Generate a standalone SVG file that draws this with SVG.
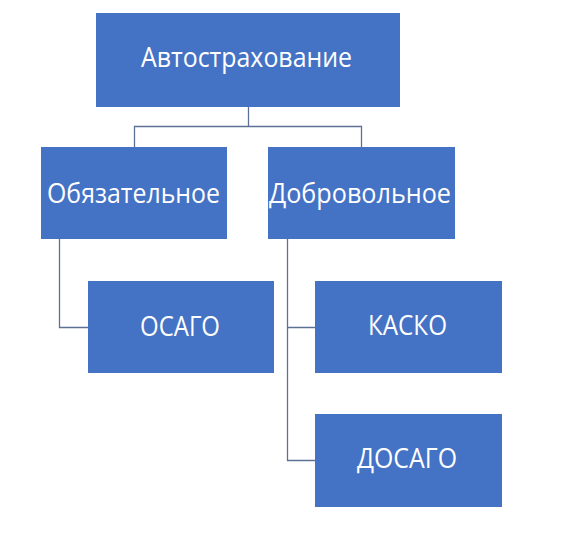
<svg xmlns="http://www.w3.org/2000/svg" width="575" height="553" viewBox="0 0 575 553">
<style>
.box{fill:#4472C4}
.t{fill:#fff;font-family:"Open Sans","Liberation Sans",Arial,sans-serif;font-size:27px;font-weight:500;text-anchor:middle}
.c{fill:none;stroke:#5d7196;stroke-width:1.3}
</style>
<rect width="575" height="553" fill="#fff"/>
<g id="connectors">
<path class="c" d="M248.5 106V126.5H134.5V147M248.5 126.5H361.5V147"/>
<path class="c" d="M59.5 239V327.5H88"/>
<path class="c" d="M287.5 239V460.5H315M287.5 327.5H315"/>
</g>
<g id="n-auto"><rect class="box" x="96" y="13" width="304" height="94"/><text class="t" x="246.5" y="67" font-size="24" textLength="211" lengthAdjust="spacingAndGlyphs">Автострахование</text></g>
<g id="n-obl"><rect class="box" x="41" y="147" width="186" height="92"/><text class="t" x="133.5" y="203" textLength="173" lengthAdjust="spacingAndGlyphs">Обязательное</text></g>
<g id="n-dob"><rect class="box" x="268" y="147" width="187" height="92"/><text class="t" x="360" y="203" textLength="182" lengthAdjust="spacingAndGlyphs">Добровольное</text></g>
<g id="n-osago"><rect class="box" x="88" y="281" width="186" height="92"/><text class="t" x="180" y="336" textLength="80" lengthAdjust="spacingAndGlyphs">ОСАГО</text></g>
<g id="n-kasko"><rect class="box" x="315" y="281" width="187" height="92"/><text class="t" x="407.5" y="335" textLength="79" lengthAdjust="spacingAndGlyphs">КАСКО</text></g>
<g id="n-dosago"><rect class="box" x="315" y="414" width="187" height="93"/><text class="t" x="407" y="468" textLength="100" lengthAdjust="spacingAndGlyphs">ДОСАГО</text></g>
</svg>
